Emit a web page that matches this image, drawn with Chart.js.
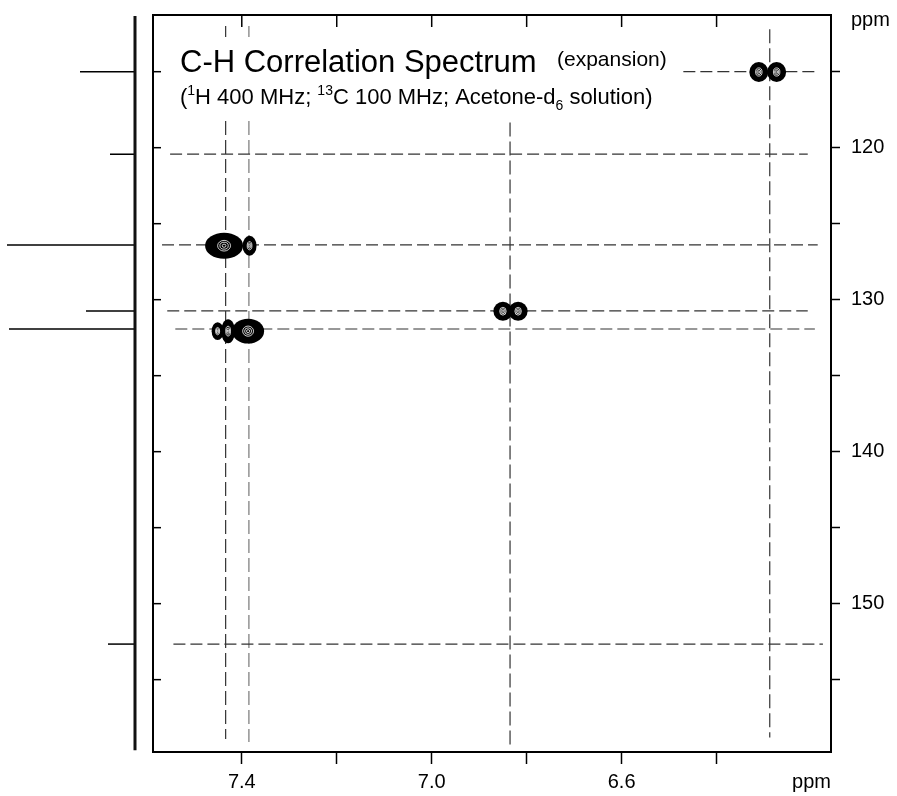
<!DOCTYPE html>
<html>
<head>
<meta charset="utf-8">
<script src="https://cdn.jsdelivr.net/npm/chart.js@4.4.1/dist/chart.umd.min.js"></script>
<style>
  html, body { margin: 0; padding: 0; background: #fff; }
  #wrap { position: relative; width: 897px; height: 796px; }
  #wrap canvas { position: absolute; top: 0; left: 0; }
</style>
</head>
<body>
<div id="wrap">
  <canvas id="proj" width="153" height="796"></canvas>
  <canvas id="hsqc" width="897" height="796"></canvas>
</div>
<script>
// axis ranges (ppm)
const hMin = 6.159, hMax = 7.587;
const cMin = 111.27, cMax = 159.76;

// tick values / labels
const hTicks = [7.4, 7.2, 7.0, 6.8, 6.6, 6.4, 6.2];
const hTickLabels = ['7.4', '', '7.0', '', '6.6', '', 'ppm'];
const cTicks = [115, 120, 125, 130, 135, 140, 145, 150, 155];
const cTickLabels = ['', '120', '', '130', '', '140', '', '150', ''];
const cUnitAt = 111.6;

// 13C projection (left)
const carbonShifts = [115.0, 120.43, 126.40, 130.74, 131.93, 152.66];
const carbonIntensity = [55, 25, 128, 49, 126, 27];
const baselineStart = 111.33, baselineEnd = 159.64;

// horizontal correlation lines (13C)
const hLineC = [115.0, 120.43, 126.40, 130.74, 131.93, 152.66];
const hLineFrom = [6.47, 7.551, 7.568, 7.557, 7.540, 7.544];
const hLineTo = [6.187, 6.208, 6.187, 6.208, 6.193, 6.176];

// vertical correlation lines (1H)
const vLineH = [7.434, 7.385, 6.835, 6.288];
const vLineFrom = [111.99, 111.99, 118.35, 112.2];
const vLineTo = [158.9, 159.1, 159.3, 158.8];

// cross-peak lobes: centre and half widths (ppm)
const lobeH = [7.4373, 7.3836, 7.4509, 7.4288, 7.3867, 6.850, 6.818, 6.311, 6.2735];
const lobeC = [126.45, 126.45, 132.07, 132.07, 132.07, 130.76, 130.76, 115.02, 115.02];
const lobeWidthH = [0.040, 0.0147, 0.0126, 0.0147, 0.0337, 0.020, 0.020, 0.020, 0.020];
const lobeWidthC = [0.86, 0.66, 0.59, 0.79, 0.82, 0.63, 0.63, 0.66, 0.66];

Chart.defaults.font.family = "'Liberation Sans', Arial, Helvetica, sans-serif";
Chart.defaults.color = '#000';

// ---- 1D projection ----
const projSets = [{
  data: [{ x: 0, y: baselineStart }, { x: 0, y: baselineEnd }],
  borderColor: '#111', borderWidth: 3, showLine: true, pointRadius: 0, clip: false
}];
carbonShifts.forEach((c, i) => {
  projSets.push({
    data: [{ x: 0, y: c }, { x: carbonIntensity[i], y: c }],
    borderColor: '#000', borderWidth: 1.5, showLine: true, pointRadius: 0, clip: false
  });
});

new Chart(document.getElementById('proj'), {
  type: 'scatter',
  data: { datasets: projSets },
  options: {
    responsive: false,
    animation: false,
    layout: { padding: { left: 0, right: 18, top: 15, bottom: 44 } },
    plugins: { legend: { display: false }, tooltip: { enabled: false } },
    scales: {
      x: { type: 'linear', min: 0, max: 135, reverse: true, display: false },
      y: { type: 'linear', min: cMin, max: cMax, reverse: true, display: false }
    }
  }
});

// ---- 2D correlation ----
const lineSets = [];
hLineC.forEach((c, i) => {
  lineSets.push({
    data: [{ x: hLineFrom[i], y: c }, { x: hLineTo[i], y: c }],
    borderColor: '#333', borderWidth: 1.2, borderDash: [12, 5],
    showLine: true, pointRadius: 0
  });
});
vLineH.forEach((h, i) => {
  lineSets.push({
    data: [{ x: h, y: vLineFrom[i] }, { x: h, y: vLineTo[i] }],
    borderColor: i === 1 ? '#777' : '#333', borderWidth: 1.2, borderDash: [14, 5],
    showLine: true, pointRadius: 0
  });
});

function drawRich(ctx, x, y, parts, size) {
  parts.forEach(([txt, mode]) => {
    const s = mode === 0 ? size : Math.round(size * 0.64);
    ctx.font = s + "px 'Liberation Sans', Arial, sans-serif";
    const dy = mode === 1 ? -size * 0.4 : (mode === -1 ? size * 0.25 : 0);
    ctx.fillText(txt, x, y + dy);
    x += ctx.measureText(txt).width;
  });
}

const overlay = {
  id: 'overlay',
  afterDatasetsDraw(chart) {
    const { ctx, chartArea: a, scales: { x, y } } = chart;
    ctx.save();
    // title box
    ctx.fillStyle = '#fff';
    ctx.fillRect(172, 37, 500, 84);
    ctx.fillStyle = '#000';
    ctx.textBaseline = 'alphabetic';
    ctx.font = "31px 'Liberation Sans', Arial, sans-serif";
    ctx.fillText('C-H Correlation Spectrum', 180, 72);
    ctx.font = "21px 'Liberation Sans', Arial, sans-serif";
    ctx.fillText('(expansion)', 557, 66);
    drawRich(ctx, 180, 104, [['(', 0], ['1', 1], ['H 400 MHz; ', 0], ['13', 1],
      ['C 100 MHz; Acetone-d', 0], ['6', -1], [' solution)', 0]], 22);

    // unit label of the 13C axis
    ctx.font = "20px 'Liberation Sans', Arial, sans-serif";
    ctx.textBaseline = 'middle';
    ctx.fillText('ppm', a.right + 20, y.getPixelForValue(cUnitAt));

    // contour lobes
    const geo = lobeH.map((h, i) => {
      const cx = x.getPixelForValue(h), cy = y.getPixelForValue(lobeC[i]);
      const rx = Math.abs(x.getPixelForValue(h + lobeWidthH[i]) - cx);
      const ry = Math.abs(y.getPixelForValue(lobeC[i] + lobeWidthC[i]) - cy);
      return { cx, cy, rx, ry };
    });
    ctx.fillStyle = '#000';
    geo.forEach(g => {
      ctx.beginPath();
      ctx.ellipse(g.cx, g.cy, g.rx, g.ry, 0, 0, Math.PI * 2);
      ctx.fill();
    });
    ctx.strokeStyle = '#fff';
    ctx.lineWidth = 0.8;
    geo.forEach(g => {
      [0.1, 0.22, 0.34].forEach(f => {
        ctx.beginPath();
        ctx.ellipse(g.cx, g.cy, g.rx * f, g.ry * f * 1.2, 0, 0, Math.PI * 2);
        ctx.stroke();
      });
    });

    // frame (top / left) with inward ticks
    ctx.strokeStyle = '#000';
    ctx.lineWidth = 2;
    ctx.beginPath();
    ctx.moveTo(a.left, a.bottom);
    ctx.lineTo(a.left, a.top);
    ctx.lineTo(a.right, a.top);
    ctx.stroke();
    ctx.lineWidth = 1.5;
    hTicks.forEach((v, i) => {
      if (hTickLabels[i] === 'ppm') return;
      const px = x.getPixelForValue(v);
      ctx.beginPath(); ctx.moveTo(px, a.top); ctx.lineTo(px, a.top + 12); ctx.stroke();
    });
    cTicks.forEach(v => {
      const py = y.getPixelForValue(v);
      ctx.beginPath(); ctx.moveTo(a.left, py); ctx.lineTo(a.left + 8, py); ctx.stroke();
    });
    ctx.restore();
  }
};

new Chart(document.getElementById('hsqc'), {
  type: 'scatter',
  data: { datasets: lineSets },
  options: {
    responsive: false,
    animation: false,
    layout: { padding: { left: 153, top: 15, right: 0, bottom: 0 } },
    plugins: { legend: { display: false }, tooltip: { enabled: false } },
    scales: {
      x: {
        type: 'linear', min: hMin, max: hMax, reverse: true, position: 'bottom',
        afterBuildTicks: s => { s.ticks = hTicks.map(v => ({ value: v })); },
        afterFit: s => { s.height = 44; s.paddingLeft = 0; s.paddingRight = 0; },
        ticks: {
          callback: (v, i) => hTickLabels[i],
          font: { size: 20 }, color: '#000', padding: 6,
          maxRotation: 0, autoSkip: false
        },
        grid: {
          drawOnChartArea: false, tickLength: 12, tickWidth: 1.5,
          tickColor: c => hTickLabels[c.index] === 'ppm' ? 'rgba(0,0,0,0)' : '#000'
        },
        border: { color: '#000', width: 2 }
      },
      y: {
        type: 'linear', min: cMin, max: cMax, reverse: true, position: 'right',
        afterBuildTicks: s => { s.ticks = cTicks.map(v => ({ value: v })); },
        afterFit: s => { s.width = 66; s.paddingTop = 0; s.paddingBottom = 0; },
        ticks: {
          callback: (v, i) => cTickLabels[i],
          font: { size: 20 }, color: '#000', padding: 11, autoSkip: false
        },
        grid: { drawOnChartArea: false, tickLength: 9, tickWidth: 1.5, tickColor: '#000' },
        border: { color: '#000', width: 2 }
      }
    }
  },
  plugins: [overlay]
});
</script>
</body>
</html>
